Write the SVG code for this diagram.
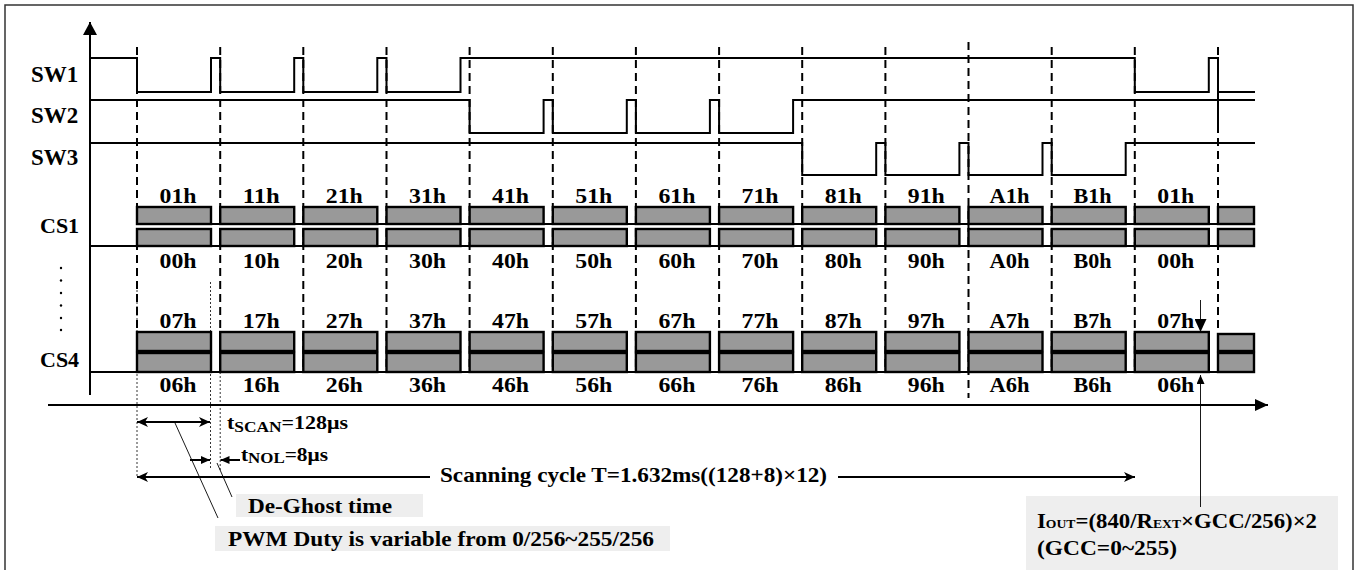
<svg xmlns="http://www.w3.org/2000/svg" width="1360" height="570" viewBox="0 0 1360 570" font-family="'Liberation Serif', 'DejaVu Serif', serif">
<style>
text{font-family:'Liberation Serif','DejaVu Serif',serif;font-weight:700;fill:#000}
.hx{font-size:20px;text-anchor:middle}
.sw{fill:none;stroke:#000;stroke-width:2}
.dash{stroke:#000;stroke-width:2;stroke-dasharray:8 5}
.dot{stroke:#000;stroke-width:0.8;stroke-dasharray:2 2}
.box{fill:#999;stroke:#000;stroke-width:2.4}
.ln{stroke:#000;stroke-width:2;fill:none}
.thin{stroke:#000;stroke-width:0.9;fill:none}
.note{fill:#eeeeee}
</style>
<defs>
<marker id="axh" markerUnits="userSpaceOnUse" markerWidth="14" markerHeight="14" refX="13" refY="7" orient="auto"><path d="M0,0 L13,7 L0,14 z" fill="#000"/></marker>
<marker id="ah" markerUnits="userSpaceOnUse" markerWidth="11" markerHeight="10" refX="11" refY="5" orient="auto-start-reverse"><path d="M0,0 L11,5 L0,10 L3,5 z" fill="#000"/></marker>
<marker id="ahs" markerUnits="userSpaceOnUse" markerWidth="9" markerHeight="8" refX="9" refY="4" orient="auto"><path d="M0,0 L9,4 L0,8 z" fill="#000"/></marker>
<marker id="ahb" markerUnits="userSpaceOnUse" markerWidth="13" markerHeight="12" refX="13" refY="6" orient="auto"><path d="M0,0 L13,6 L0,12 z" fill="#000"/></marker>
</defs>

<path d="M5,575 V5 H1353 V575" fill="none" stroke="#333" stroke-width="1.5"/>

<g id="grid">
<line class="dash" x1="137" y1="47" x2="137" y2="372"/>
<line class="dash" x1="220.2" y1="47" x2="220.2" y2="372"/>
<line class="dash" x1="303.3" y1="47" x2="303.3" y2="372"/>
<line class="dash" x1="386.5" y1="47" x2="386.5" y2="372"/>
<line class="dash" x1="469.6" y1="47" x2="469.6" y2="372"/>
<line class="dash" x1="552.8" y1="47" x2="552.8" y2="372"/>
<line class="dash" x1="635.9" y1="47" x2="635.9" y2="372"/>
<line class="dash" x1="719.1" y1="47" x2="719.1" y2="372"/>
<line class="dash" x1="802.2" y1="47" x2="802.2" y2="372"/>
<line class="dash" x1="885.4" y1="47" x2="885.4" y2="372"/>
<line class="dash" x1="968.5" y1="42" x2="968.5" y2="398"/>
<line class="dash" x1="1051.7" y1="47" x2="1051.7" y2="372"/>
<line class="dash" x1="1134.8" y1="47" x2="1134.8" y2="372"/>
<line class="dash" x1="1218" y1="47" x2="1218" y2="372"/>
<line class="dot" x1="137" y1="282" x2="137" y2="477"/>
<line class="dot" x1="210.5" y1="282" x2="210.5" y2="470"/>
<line class="dot" x1="220.2" y1="372" x2="220.2" y2="470"/>
</g>

<g id="sw1">
<text x="31" y="82" font-size="23">SW1</text>
<path class="sw" d="M90,58 H137 V92 H211 V58 H220.2 V92 H294.2 V58 H303.3 V92 H377.3 V58 H386.5 V92 H460.5 V58 H1134.8 V92 H1208.8 V58 H1218 V92 H1255"/>
<line class="ln" x1="1218" y1="92" x2="1218" y2="133"/>
</g>
<g id="sw2">
<text x="31" y="123" font-size="23">SW2</text>
<path class="sw" d="M90,100 H469.6 V133 H543.6 V100 H552.8 V133 H626.8 V100 H635.9 V133 H709.9 V100 H719.1 V133 H793.1 V100 H1255"/>
</g>
<g id="sw3">
<text x="31" y="165" font-size="23">SW3</text>
<path class="sw" d="M90,143 H802.2 V175 H876.2 V143 H885.4 V175 H959.4 V143 H968.5 V175 H1042.5 V143 H1051.7 V175 H1125.7 V143 H1255"/>
</g>

<g id="cs1">
<text x="40" y="233" font-size="22">CS1</text>
<line class="ln" x1="137" y1="224" x2="1254" y2="224"/>
<line class="ln" x1="90" y1="246" x2="1254" y2="246"/>
<g>
<rect class="box" x="137" y="207" width="74" height="17"/><rect class="box" x="137" y="229" width="74" height="17"/>
<rect class="box" x="220.2" y="207" width="74" height="17"/><rect class="box" x="220.2" y="229" width="74" height="17"/>
<rect class="box" x="303.3" y="207" width="74" height="17"/><rect class="box" x="303.3" y="229" width="74" height="17"/>
<rect class="box" x="386.5" y="207" width="74" height="17"/><rect class="box" x="386.5" y="229" width="74" height="17"/>
<rect class="box" x="469.6" y="207" width="74" height="17"/><rect class="box" x="469.6" y="229" width="74" height="17"/>
<rect class="box" x="552.8" y="207" width="74" height="17"/><rect class="box" x="552.8" y="229" width="74" height="17"/>
<rect class="box" x="635.9" y="207" width="74" height="17"/><rect class="box" x="635.9" y="229" width="74" height="17"/>
<rect class="box" x="719.1" y="207" width="74" height="17"/><rect class="box" x="719.1" y="229" width="74" height="17"/>
<rect class="box" x="802.2" y="207" width="74" height="17"/><rect class="box" x="802.2" y="229" width="74" height="17"/>
<rect class="box" x="885.4" y="207" width="74" height="17"/><rect class="box" x="885.4" y="229" width="74" height="17"/>
<rect class="box" x="968.5" y="207" width="74" height="17"/><rect class="box" x="968.5" y="229" width="74" height="17"/>
<rect class="box" x="1051.7" y="207" width="74" height="17"/><rect class="box" x="1051.7" y="229" width="74" height="17"/>
<rect class="box" x="1134.8" y="207" width="74" height="17"/><rect class="box" x="1134.8" y="229" width="74" height="17"/>
<rect class="box" x="1218" y="207" width="36" height="17"/><rect class="box" x="1218" y="229" width="36" height="17"/>
</g>
<g class="hx">
<text class="hx" x="178" y="203" textLength="37" lengthAdjust="spacingAndGlyphs">01h</text>
<text class="hx" x="261.2" y="203" textLength="37" lengthAdjust="spacingAndGlyphs">11h</text>
<text class="hx" x="344.3" y="203" textLength="37" lengthAdjust="spacingAndGlyphs">21h</text>
<text class="hx" x="427.5" y="203" textLength="37" lengthAdjust="spacingAndGlyphs">31h</text>
<text class="hx" x="510.6" y="203" textLength="37" lengthAdjust="spacingAndGlyphs">41h</text>
<text class="hx" x="593.8" y="203" textLength="37" lengthAdjust="spacingAndGlyphs">51h</text>
<text class="hx" x="676.9" y="203" textLength="37" lengthAdjust="spacingAndGlyphs">61h</text>
<text class="hx" x="760" y="203" textLength="37" lengthAdjust="spacingAndGlyphs">71h</text>
<text class="hx" x="843.2" y="203" textLength="37" lengthAdjust="spacingAndGlyphs">81h</text>
<text class="hx" x="926.3" y="203" textLength="37" lengthAdjust="spacingAndGlyphs">91h</text>
<text class="hx" x="1009.5" y="203" textLength="40" lengthAdjust="spacingAndGlyphs">A1h</text>
<text class="hx" x="1092.6" y="203" textLength="38" lengthAdjust="spacingAndGlyphs">B1h</text>
<text class="hx" x="1175.8" y="203" textLength="37" lengthAdjust="spacingAndGlyphs">01h</text>
<text class="hx" x="178" y="268" textLength="37" lengthAdjust="spacingAndGlyphs">00h</text>
<text class="hx" x="261.2" y="268" textLength="37" lengthAdjust="spacingAndGlyphs">10h</text>
<text class="hx" x="344.3" y="268" textLength="37" lengthAdjust="spacingAndGlyphs">20h</text>
<text class="hx" x="427.5" y="268" textLength="37" lengthAdjust="spacingAndGlyphs">30h</text>
<text class="hx" x="510.6" y="268" textLength="37" lengthAdjust="spacingAndGlyphs">40h</text>
<text class="hx" x="593.8" y="268" textLength="37" lengthAdjust="spacingAndGlyphs">50h</text>
<text class="hx" x="676.9" y="268" textLength="37" lengthAdjust="spacingAndGlyphs">60h</text>
<text class="hx" x="760" y="268" textLength="37" lengthAdjust="spacingAndGlyphs">70h</text>
<text class="hx" x="843.2" y="268" textLength="37" lengthAdjust="spacingAndGlyphs">80h</text>
<text class="hx" x="926.3" y="268" textLength="37" lengthAdjust="spacingAndGlyphs">90h</text>
<text class="hx" x="1009.5" y="268" textLength="40" lengthAdjust="spacingAndGlyphs">A0h</text>
<text class="hx" x="1092.6" y="268" textLength="38" lengthAdjust="spacingAndGlyphs">B0h</text>
<text class="hx" x="1175.8" y="268" textLength="37" lengthAdjust="spacingAndGlyphs">00h</text>
</g>
</g>

<g id="dots" fill="#000">
<circle cx="61" cy="268" r="1.2"/><circle cx="61" cy="280.5" r="1.2"/><circle cx="61" cy="293" r="1.2"/>
<circle cx="61" cy="305.5" r="1.2"/><circle cx="61" cy="318" r="1.2"/><circle cx="61" cy="330" r="1.2"/>
</g>

<g id="cs4">
<text x="40" y="367" font-size="22">CS4</text>
<line class="ln" x1="90" y1="372" x2="1254" y2="372"/>
<g>
<rect class="box" x="137" y="332" width="74" height="19"/><rect class="box" x="137" y="353" width="74" height="19"/>
<rect class="box" x="220.2" y="332" width="74" height="19"/><rect class="box" x="220.2" y="353" width="74" height="19"/>
<rect class="box" x="303.3" y="332" width="74" height="19"/><rect class="box" x="303.3" y="353" width="74" height="19"/>
<rect class="box" x="386.5" y="332" width="74" height="19"/><rect class="box" x="386.5" y="353" width="74" height="19"/>
<rect class="box" x="469.6" y="332" width="74" height="19"/><rect class="box" x="469.6" y="353" width="74" height="19"/>
<rect class="box" x="552.8" y="332" width="74" height="19"/><rect class="box" x="552.8" y="353" width="74" height="19"/>
<rect class="box" x="635.9" y="332" width="74" height="19"/><rect class="box" x="635.9" y="353" width="74" height="19"/>
<rect class="box" x="719.1" y="332" width="74" height="19"/><rect class="box" x="719.1" y="353" width="74" height="19"/>
<rect class="box" x="802.2" y="332" width="74" height="19"/><rect class="box" x="802.2" y="353" width="74" height="19"/>
<rect class="box" x="885.4" y="332" width="74" height="19"/><rect class="box" x="885.4" y="353" width="74" height="19"/>
<rect class="box" x="968.5" y="332" width="74" height="19"/><rect class="box" x="968.5" y="353" width="74" height="19"/>
<rect class="box" x="1051.7" y="332" width="74" height="19"/><rect class="box" x="1051.7" y="353" width="74" height="19"/>
<rect class="box" x="1134.8" y="332" width="74" height="19"/><rect class="box" x="1134.8" y="353" width="74" height="19"/>
<rect class="box" x="1218" y="334" width="36" height="17"/><rect class="box" x="1218" y="353" width="36" height="19"/>
</g>
<g>
<text class="hx" x="178" y="328" textLength="37" lengthAdjust="spacingAndGlyphs">07h</text>
<text class="hx" x="261.2" y="328" textLength="37" lengthAdjust="spacingAndGlyphs">17h</text>
<text class="hx" x="344.3" y="328" textLength="37" lengthAdjust="spacingAndGlyphs">27h</text>
<text class="hx" x="427.5" y="328" textLength="37" lengthAdjust="spacingAndGlyphs">37h</text>
<text class="hx" x="510.6" y="328" textLength="37" lengthAdjust="spacingAndGlyphs">47h</text>
<text class="hx" x="593.8" y="328" textLength="37" lengthAdjust="spacingAndGlyphs">57h</text>
<text class="hx" x="676.9" y="328" textLength="37" lengthAdjust="spacingAndGlyphs">67h</text>
<text class="hx" x="760" y="328" textLength="37" lengthAdjust="spacingAndGlyphs">77h</text>
<text class="hx" x="843.2" y="328" textLength="37" lengthAdjust="spacingAndGlyphs">87h</text>
<text class="hx" x="926.3" y="328" textLength="37" lengthAdjust="spacingAndGlyphs">97h</text>
<text class="hx" x="1009.5" y="328" textLength="40" lengthAdjust="spacingAndGlyphs">A7h</text>
<text class="hx" x="1092.6" y="328" textLength="38" lengthAdjust="spacingAndGlyphs">B7h</text>
<text class="hx" x="1175.8" y="328" textLength="37" lengthAdjust="spacingAndGlyphs">07h</text>
<text class="hx" x="178" y="392" textLength="37" lengthAdjust="spacingAndGlyphs">06h</text>
<text class="hx" x="261.2" y="392" textLength="37" lengthAdjust="spacingAndGlyphs">16h</text>
<text class="hx" x="344.3" y="392" textLength="37" lengthAdjust="spacingAndGlyphs">26h</text>
<text class="hx" x="427.5" y="392" textLength="37" lengthAdjust="spacingAndGlyphs">36h</text>
<text class="hx" x="510.6" y="392" textLength="37" lengthAdjust="spacingAndGlyphs">46h</text>
<text class="hx" x="593.8" y="392" textLength="37" lengthAdjust="spacingAndGlyphs">56h</text>
<text class="hx" x="676.9" y="392" textLength="37" lengthAdjust="spacingAndGlyphs">66h</text>
<text class="hx" x="760" y="392" textLength="37" lengthAdjust="spacingAndGlyphs">76h</text>
<text class="hx" x="843.2" y="392" textLength="37" lengthAdjust="spacingAndGlyphs">86h</text>
<text class="hx" x="926.3" y="392" textLength="37" lengthAdjust="spacingAndGlyphs">96h</text>
<text class="hx" x="1009.5" y="392" textLength="40" lengthAdjust="spacingAndGlyphs">A6h</text>
<text class="hx" x="1092.6" y="392" textLength="38" lengthAdjust="spacingAndGlyphs">B6h</text>
<text class="hx" x="1175.8" y="392" textLength="37" lengthAdjust="spacingAndGlyphs">06h</text>
</g>
</g>

<g id="axes">
<line class="ln" x1="90" y1="395" x2="90" y2="22" marker-end="url(#axh)"/>
<line class="ln" x1="48" y1="405" x2="1268" y2="405" marker-end="url(#ahb)"/>
</g>

<g id="notes">
<rect class="note" x="236" y="494" width="187" height="23"/>
<text x="248" y="513" font-size="22" textLength="144" lengthAdjust="spacingAndGlyphs">De-Ghost time</text>
<rect class="note" x="215" y="526" width="455" height="25"/>
<text x="228" y="546" font-size="22" textLength="426" lengthAdjust="spacingAndGlyphs">PWM Duty is variable from 0/256~255/256</text>
<rect class="note" x="1026" y="496" width="312" height="80"/>
<text x="1037" y="528" font-size="20" textLength="280" lengthAdjust="spacingAndGlyphs">I<tspan font-size="12">OUT</tspan>=(840/R<tspan font-size="12">EXT</tspan>×GCC/256)×2</text>
<text x="1037" y="555" font-size="20" textLength="140" lengthAdjust="spacingAndGlyphs">(GCC=0~255)</text>
<text x="440" y="482" font-size="22" textLength="387" lengthAdjust="spacingAndGlyphs">Scanning cycle T=1.632ms((128+8)×12)</text>
<text x="227" y="429" font-size="19" textLength="121" lengthAdjust="spacingAndGlyphs">t<tspan font-size="15" dy="3">SCAN</tspan><tspan dy="-3">=128μs</tspan></text>
<text x="241" y="461" font-size="19" textLength="87" lengthAdjust="spacingAndGlyphs">t<tspan font-size="15" dy="2">NOL</tspan><tspan dy="-2">=8μs</tspan></text>
</g>

<g id="connectors">
<line class="ln" x1="137" y1="422" x2="210" y2="422" stroke-width="2.5" marker-start="url(#ah)" marker-end="url(#ah)"/>
<line class="ln" x1="190" y1="460" x2="210" y2="460" marker-end="url(#ahs)"/>
<line class="ln" x1="240" y1="460" x2="220.5" y2="460" marker-end="url(#ahs)"/>
<line class="ln" x1="430" y1="477" x2="137" y2="477" marker-end="url(#ah)"/>
<line class="ln" x1="838" y1="477" x2="1135" y2="477" marker-end="url(#ah)"/>
<line class="thin" x1="175" y1="423" x2="218" y2="518"/>
<line class="thin" x1="217" y1="463" x2="232" y2="497"/>
<line class="thin" x1="1200.5" y1="300" x2="1200.5" y2="332" stroke-width="1.5" marker-end="url(#ahb)"/>
<line class="thin" x1="1200.5" y1="507" x2="1200.5" y2="375" stroke-width="1.2" marker-end="url(#ahs)"/>
</g>
</svg>
